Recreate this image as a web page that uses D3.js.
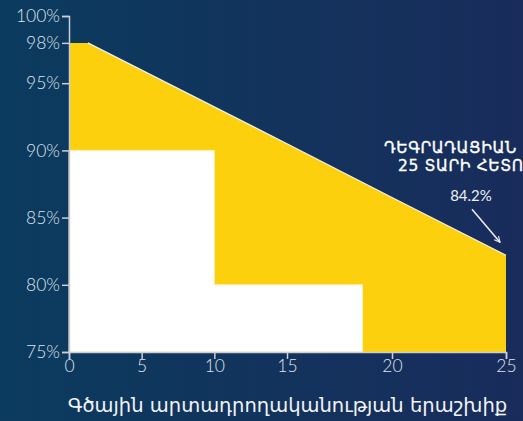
<!DOCTYPE html>
<html>
<head>
<meta charset="utf-8">
<script src="https://cdn.jsdelivr.net/npm/d3@7"></script>
<style>
  html, body { margin: 0; padding: 0; overflow: hidden; }
  body { width: 523px; height: 421px; }
  svg { display: block; }
</style>
</head>
<body>
<svg id="chart" width="523" height="421"></svg>
<script>
// ---- data ----
const xTicks = [0, 5, 10, 15, 20, 25];
const yTicks = [75, 80, 85, 90, 95, 98, 100];
// guaranteed performance line (years, %)
const lineYears = [0, 1.3, 15, 20, 25];
const lineValues = [98, 98, 90.5, 86.5, 82.2];
// white step area (years, %)
const stepYears = [0, 10, 10, 18.6, 18.6];
const stepValues = [90, 90, 80, 80, 75];
const endLabel = "84.2%";
const noteLines = ["ԴԵԳՐԱԴԱՑԻԱՆ", "25 ՏԱՐԻ ՀԵՏՈ"];
const xTitle = "Գծային արտադրողականության երաշխիք";

const svg = d3.select("#chart");
const W = 523, H = 421;

// background gradient
const defs = svg.append("defs");
const grad = defs.append("linearGradient").attr("id", "bg")
  .attr("x1", "0%").attr("y1", "0%").attr("x2", "100%").attr("y2", "0%");
grad.append("stop").attr("offset", "0%").attr("stop-color", "#0b3b5f");
grad.append("stop").attr("offset", "100%").attr("stop-color", "#192c5b");
const mk = defs.append("marker").attr("id", "arrow")
  .attr("viewBox", "0 0 10 10").attr("refX", 9).attr("refY", 5)
  .attr("markerWidth", 7).attr("markerHeight", 7).attr("orient", "auto-start-reverse")
  .attr("markerUnits", "userSpaceOnUse");
mk.append("path").attr("d", "M1,1 L9,5 L1,9").attr("fill", "none")
  .attr("stroke", "#e8ecf2").attr("stroke-width", 1.6);

svg.append("rect").attr("width", W).attr("height", H).attr("fill", "url(#bg)");

// scales (piecewise x axis as in the reference)
const x = d3.scaleLinear().domain([0, 15, 20, 25]).range([69, 287, 392, 506]);
const y = d3.scaleLinear().domain([75, 100]).range([352, 16]);

// yellow area
const yellowPts = lineYears.map((d, i) => [d, lineValues[i]]);
const areaGen = d3.area().x(d => x(d[0])).y0(y(75)).y1(d => y(d[1]));
svg.append("path").datum(yellowPts).attr("d", areaGen).attr("fill", "#fcd00c");
svg.append("path").datum(yellowPts.slice(1))
  .attr("d", d3.line().x(d => x(d[0])).y(d => y(d[1])))
  .attr("fill", "none").attr("stroke", "#f4f2e6").attr("stroke-width", 1.2);

// white steps
const whitePts = stepYears.map((d, i) => [d, stepValues[i]]);
const whitePoly = [[0, 75]].concat(whitePts);
svg.append("path").datum(whitePoly)
  .attr("d", d3.line().x(d => x(d[0])).y(d => y(d[1])).curve(d3.curveLinearClosed))
  .attr("fill", "#ffffff").attr("stroke", "#fbf0b8").attr("stroke-width", 1);

// axes
const tickColor = "#c9ced8";
const labelColor = "#dfe3ea";
const fontTicks = "Lato, 'Noto Sans', sans-serif";

const yAxis = svg.append("g").attr("transform", `translate(${x(0)},0)`)
  .call(d3.axisLeft(y).tickValues(yTicks).tickFormat(d => d + "%").tickSize(7).tickPadding(2));
const xAxis = svg.append("g").attr("transform", `translate(0,${y(75)})`)
  .call(d3.axisBottom(x).tickValues(xTicks).tickFormat(d3.format("d")).tickSize(7).tickPadding(1));
[yAxis, xAxis].forEach(g => {
  g.select(".domain").attr("stroke", tickColor).attr("stroke-width", 1.5);
  g.selectAll(".tick line").attr("stroke", tickColor).attr("stroke-width", 1.5);
  g.selectAll(".tick text").attr("fill", labelColor)
    .attr("font-family", fontTicks).attr("font-size", 17.5).attr("font-weight", 300);
});

// annotation
const ex = x(25), ey = y(lineValues[lineValues.length - 1]);
svg.append("text").attr("x", ex - 35).attr("y", ey - 54)
  .attr("text-anchor", "middle").attr("fill", "#eef1f5")
  .attr("font-family", fontTicks).attr("font-size", 15).attr("font-weight", 400)
  .text(endLabel);
svg.append("line")
  .attr("x1", ex - 34).attr("y1", ey - 46)
  .attr("x2", ex - 6).attr("y2", ey - 13)
  .attr("stroke", "#e8ecf2").attr("stroke-width", 1.6)
  .attr("marker-end", "url(#arrow)");

const note = svg.append("text").attr("fill", "#ffffff")
  .attr("font-family", "'DejaVu Sans', 'Noto Sans', sans-serif")
  .attr("font-size", 15.5).attr("font-weight", 400).attr("letter-spacing", 0.6)
  .attr("stroke", "#ffffff").attr("stroke-width", 0.35);
note.append("tspan").attr("x", 384).attr("y", 153).text(noteLines[0]);
note.append("tspan").attr("x", 398).attr("y", 171).text(noteLines[1]);

// x axis title
svg.append("text").attr("x", (x(0) + x(25)) / 2).attr("y", 412)
  .attr("text-anchor", "middle").attr("fill", "#f2f4f7")
  .attr("font-family", "'DejaVu Sans', 'Noto Sans', sans-serif")
  .attr("font-size", 19.5).attr("font-weight", 400)
  .text(xTitle);
</script>
</body>
</html>
